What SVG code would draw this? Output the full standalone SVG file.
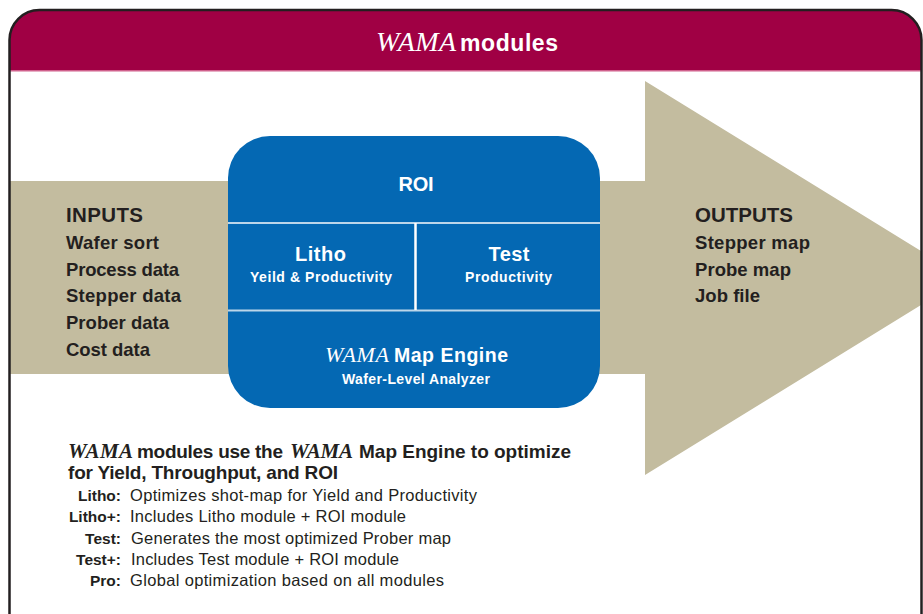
<svg xmlns="http://www.w3.org/2000/svg" width="923" height="614" viewBox="0 0 923 614">
<style>
text{font-family:"Liberation Sans",Arial,sans-serif;font-weight:700}
.w{font-family:"Liberation Serif","Times New Roman",serif;font-style:italic;font-weight:400}
.wb{font-weight:700;fill:#231f20}
.wh{fill:#fff}
.io{fill:#231f20;font-size:18.500px}
.h{fill:#231f20;font-size:19px}
.k{fill:#231f20;font-size:15.500px;text-anchor:end}
.d{fill:#231f20;font-size:16.500px;font-weight:400}
.div{stroke:#bcd6ea;stroke-width:2;fill:none}
</style>
<defs><clipPath id="fc"><rect x="10" y="10" width="911" height="640" rx="30"/></clipPath></defs>
<rect width="923" height="614" fill="#fff"/>
<g id="frame-fill" clip-path="url(#fc)">
<rect x="10" y="10" width="911" height="61" fill="#a00044"/>
<rect x="10" y="70" width="911" height="1.500" fill="#d0608c"/>
<polygon id="arrow" points="10,181 645,181 645,81 965,278 645,475 645,374 10,374" fill="#c3bc9f"/>
</g>
<rect id="frame" x="9.500" y="10" width="912" height="640" rx="30" fill="none" stroke="#231f20" stroke-width="2.500"/>
<g id="title">
<text x="376" y="51" class="w wh" font-size="28" textLength="80">WAMA</text>
<text x="460" y="51" class="wh" font-size="23" textLength="98">modules</text>
</g>
<g id="inputs">
<text x="66" y="222" class="h" font-size="20" style="font-size:20.500px" textLength="77">INPUTS</text>
<text x="66" y="249" class="io" textLength="93">Wafer sort</text>
<text x="66" y="276" class="io" textLength="113">Process data</text>
<text x="66" y="302" class="io" textLength="115">Stepper data</text>
<text x="66" y="329" class="io" textLength="103">Prober data</text>
<text x="66" y="356" class="io" textLength="84">Cost data</text>
</g>
<g id="outputs">
<text x="695" y="222" class="h" style="font-size:20.500px" textLength="98">OUTPUTS</text>
<text x="695" y="249" class="io" textLength="115">Stepper map</text>
<text x="695" y="276" class="io" textLength="96">Probe map</text>
<text x="695" y="302" class="io" textLength="65">Job file</text>
</g>
<g id="center">
<rect x="228" y="136" width="372" height="272" rx="42" fill="#0468b3"/>
<path class="div" d="M228 223H600M228 310.500H600"/>
<path d="M415.500 223V310" stroke="#fff" stroke-width="2.500" fill="none"/>
</g>
<g id="roi"><text x="416" y="191" class="wh" font-size="20" text-anchor="middle" textLength="35">ROI</text></g>
<g id="litho">
<text x="320.500" y="261" class="wh" font-size="20" text-anchor="middle" textLength="51">Litho</text>
<text x="321" y="282" class="wh" font-size="14" text-anchor="middle" textLength="142">Yeild &amp; Productivity</text>
</g>
<g id="test">
<text x="509" y="261" class="wh" font-size="20" text-anchor="middle" textLength="41">Test</text>
<text x="508.500" y="282" class="wh" font-size="14" text-anchor="middle" textLength="87">Productivity</text>
</g>
<g id="engine">
<text x="325" y="362" class="w wh" font-size="22" textLength="64">WAMA</text>
<text x="394" y="362" class="wh" font-size="19.500" textLength="114">Map Engine</text>
<text x="342" y="384" class="wh" font-size="14" textLength="148">Wafer-Level Analyzer</text>
</g>
<g id="notes">
<text x="68" y="458" class="w wb" font-size="21" textLength="65">WAMA</text>
<text x="137" y="458" class="h" textLength="146">modules use the</text>
<text x="290" y="458" class="w wb" font-size="21" textLength="63">WAMA</text>
<text x="359" y="458" class="h" textLength="212">Map Engine to optimize</text>
<text x="68" y="479" class="h" textLength="270">for Yield, Throughput, and ROI</text>
<text x="121" y="501" class="k">Litho:</text>
<text x="130" y="501" class="d" textLength="347">Optimizes shot-map for Yield and Productivity</text>
<text x="121" y="522" class="k">Litho+:</text>
<text x="130" y="522" class="d" textLength="276">Includes Litho module + ROI module</text>
<text x="121" y="544" class="k">Test:</text>
<text x="131" y="544" class="d" textLength="320">Generates the most optimized Prober map</text>
<text x="121" y="565" class="k">Test+:</text>
<text x="131" y="565" class="d" textLength="268">Includes Test module + ROI module</text>
<text x="121" y="586" class="k">Pro:</text>
<text x="130" y="586" class="d" textLength="314">Global optimization based on all modules</text>
</g>
</svg>
